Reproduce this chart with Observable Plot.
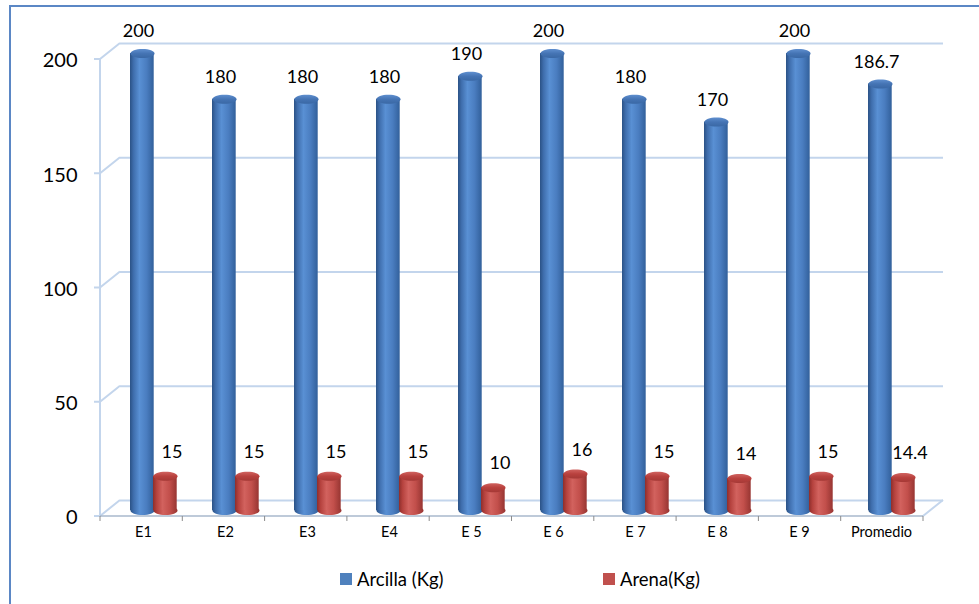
<!DOCTYPE html>
<html><head><meta charset="utf-8">
<script src="https://cdn.jsdelivr.net/npm/d3@7"></script>
<script src="https://cdn.jsdelivr.net/npm/@observablehq/plot@0.6"></script>
<style>
body{margin:0;background:#fff;font-family:Lato,"Open Sans",sans-serif;}
#wrap{position:relative;width:979px;height:604px;overflow:hidden;background:#fff;}
#chart{position:absolute;left:0;top:0;}
#frame{position:absolute;left:9px;top:5px;width:1000px;height:700px;border-top:2px solid #5B87C5;border-left:2px solid #5B87C5;pointer-events:none;}
#legend{position:absolute;left:0;top:556px;width:979px;height:45px;}
.item{position:absolute;top:0;height:45px;display:flex;align-items:center;font-size:18.5px;color:#000;white-space:nowrap;}
.sw{width:12px;height:12px;margin-right:5px;}
</style></head><body>
<div id="wrap"><div id="chart"></div><div id="legend"></div><div id="frame"></div></div>
<script>
// ---- data ----
const categories = ["E1", "E2", "E3", "E4", "E 5", "E 6", "E 7", "E 8", "E 9", "Promedio"];
const arcilla = [200, 180, 180, 180, 190, 200, 180, 170, 200, 186.7];
const arena = [15, 15, 15, 15, 10, 16, 15, 14, 15, 14.4];
const yTicks = [0, 50, 100, 150, 200];
const seriesNames = ["Arcilla (Kg)", "Arena(Kg)"];
const seriesColors = ["#4F81BD", "#C0504D"];

const rows = categories.map((c, i) => ({cat: c, arcilla: arcilla[i], arena: arena[i]}));

// ---- style constants ----
const DX = 20, DY = 16, LIFT = 6;
const GRID = "#C3D5EC";

const ellipse = {
  draw(ctx) {
    const rx = 12, ry = 4.5, k = 0.5523;
    ctx.moveTo(rx, 0);
    ctx.bezierCurveTo(rx, ry * k, rx * k, ry, 0, ry);
    ctx.bezierCurveTo(-rx * k, ry, -rx, ry * k, -rx, 0);
    ctx.bezierCurveTo(-rx, -ry * k, -rx * k, -ry, 0, -ry);
    ctx.bezierCurveTo(rx * k, -ry, rx, -ry * k, rx, 0);
    ctx.closePath();
  }
};

// 3D frame decorations drawn with the plot's scales
const walls = (index, scales, values, dims) => {
  const {width, height, marginLeft: L, marginRight: R, marginBottom: B} = dims;
  const x0 = L, x1 = width - R, yb = height - B;
  const g = d3.create("svg:g").attr("fill", "none");
  for (const v of yTicks) {
    const y = scales.y(v);
    g.append("path").attr("d", `M${x0 - 6},${y}H${x0}L${x0 + DX},${y - DY}`)
      .attr("stroke", GRID).attr("stroke-width", 2);
  }
  g.append("path").attr("d", `M${x0},${scales.y(yTicks[yTicks.length - 1])}V${yb}`)
    .attr("stroke", GRID).attr("stroke-width", 2);
  g.append("path").attr("d", `M${x1},${yb}L${x1 + DX},${yb - DY}`)
    .attr("stroke", GRID).attr("stroke-width", 2);
  g.append("path").attr("d", `M${x0},${yb}H${x1}`)
    .attr("stroke", "#A9B8CC").attr("stroke-width", 1.5);
  const n = categories.length, bw = (x1 - x0) / n;
  for (let i = 0; i <= n; i++) {
    g.append("path").attr("d", `M${x0 + i * bw},${yb}V${yb + 5}`)
      .attr("stroke", "#8C8C8C").attr("stroke-width", 1);
  }
  return g.node();
};

const cylinder = (key, insetL, insetR, dxC, side, top) => [
  Plot.dot(rows, {x: "cat", y: () => 0, symbol: ellipse, fill: side, stroke: "none", dx: dxC, dy: -LIFT}),
  Plot.barY(rows, {x: "cat", y1: () => 0, y2: key, insetLeft: insetL, insetRight: insetR, fill: side, dy: -LIFT}),
  Plot.dot(rows, {x: "cat", y: key, symbol: ellipse, fill: top, stroke: "none", dx: dxC, dy: -LIFT})
];

const svg = Plot.plot({
  width: 979,
  height: 556,
  marginLeft: 100,
  marginRight: 56,
  marginTop: 59,
  marginBottom: 40,
  style: {fontFamily: "Lato, 'Open Sans', sans-serif", background: "transparent", overflow: "visible"},
  x: {type: "band", domain: categories, padding: 0, axis: null},
  y: {domain: [0, 200], axis: null},
  marks: [
    Plot.ruleY(yTicks, {dx: DX, dy: -DY, stroke: GRID, strokeWidth: 2}),
    walls,
    ...cylinder("arcilla", 28, 30.3, -1, "url(#sideBlue)", "url(#topBlue)"),
    ...cylinder("arena", 51, 7.3, 22, "url(#sideRed)", "url(#topRed)"),
    Plot.text(rows, {x: "cat", y: "arcilla", text: d => String(d.arcilla), dx: -5, dy: -28, fontSize: 18, fill: "#000"}),
    Plot.text(rows, {x: "cat", y: "arena", text: d => String(d.arena), dx: 28.5, dy: -30, fontSize: 18, fill: "#000"}),
    Plot.text(yTicks, {y: d => d, text: d => String(d), frameAnchor: "left", textAnchor: "end", dx: -23, dy: 1.5, fontSize: 20, fill: "#000"}),
    Plot.text(categories, {x: d => d, text: d => d, frameAnchor: "bottom", dy: 20, fontSize: 14.5, fill: "#000"})
  ]
});

// gradients for the cylinder shading
const defs = d3.select(svg).insert("defs", ":first-child");
function grad(id, stops, vertical) {
  const lg = defs.append("linearGradient").attr("id", id)
    .attr("x1", 0).attr("y1", 0).attr("x2", vertical ? 0 : 1).attr("y2", vertical ? 1 : 0);
  for (const [o, c] of stops) lg.append("stop").attr("offset", o).attr("stop-color", c);
}
grad("sideBlue", [[0, "#2B5286"], [0.15, "#3F6EAD"], [0.4, "#5990D4"], [0.7, "#4A7DC0"], [1, "#32609B"]]);
grad("topBlue", [[0, "#5F8FCF"], [0.5, "#4574B4"], [1, "#3A68A5"]], true);
grad("sideRed", [[0, "#8E2E2B"], [0.15, "#B5423E"], [0.4, "#D2625E"], [0.7, "#C24F4B"], [1, "#973532"]]);
grad("topRed", [[0, "#D06360"], [0.5, "#B9413E"], [1, "#A53936"]], true);

document.getElementById("chart").appendChild(svg);

// legend
const legend = document.getElementById("legend");
const legendX = [340, 603];
seriesNames.forEach((name, i) => {
  const item = document.createElement("div");
  item.className = "item";
  item.style.left = legendX[i] + "px";
  const sw = document.createElement("span");
  sw.className = "sw";
  sw.style.background = seriesColors[i];
  const t = document.createElement("span");
  t.textContent = name;
  item.appendChild(sw); item.appendChild(t);
  legend.appendChild(item);
});
</script>
</body></html>
